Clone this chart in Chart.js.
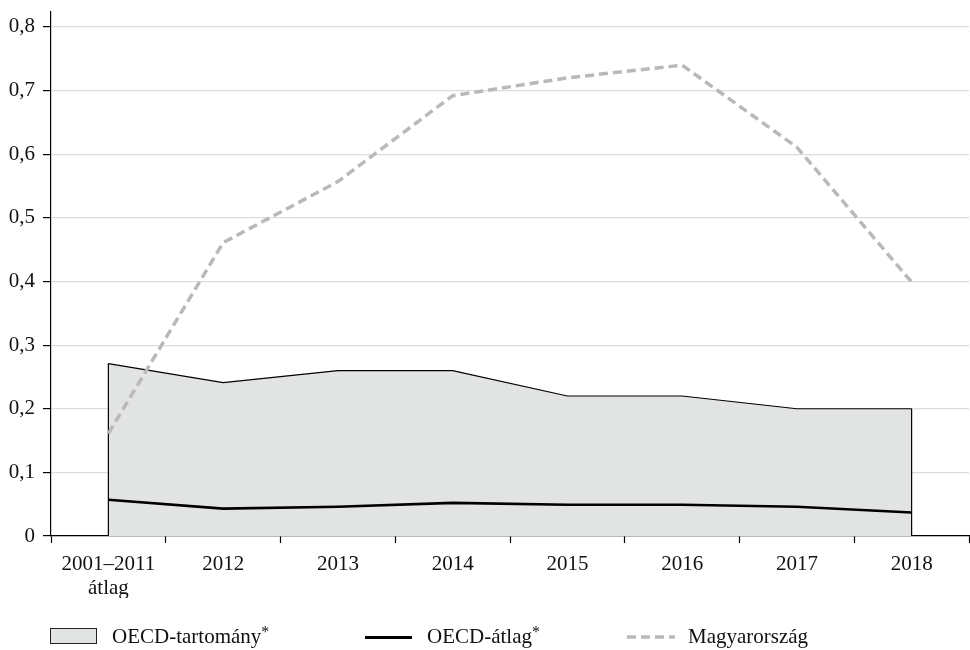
<!DOCTYPE html>
<html>
<head>
<meta charset="utf-8">
<script src="https://cdn.jsdelivr.net/npm/chart.js@4"></script>
<style>
  html, body { margin: 0; padding: 0; background: #fff; }
  #wrap { position: relative; width: 970px; height: 650px; font-family: "Liberation Serif", "Times New Roman", serif; color: #111; }
  #c { position: absolute; left: 0; top: 0; }
  .lg { position: absolute; font-size: 21px; line-height: 24px; top: 624px; white-space: nowrap; }
  .star { font-size: 16px; position: relative; top: -6px; }
</style>
</head>
<body>
<div id="wrap">
  <canvas id="c" width="970" height="650"></canvas>
  <div style="position:absolute;left:50px;top:628px;width:45px;height:14px;background:#e2e3e3;border:1px solid #222;"></div>
  <div class="lg" style="left:112px;">OECD-tartomány<span class="star">*</span></div>
  <div style="position:absolute;left:365px;top:636px;width:47px;height:3px;background:#000;"></div>
  <div class="lg" style="left:427px;">OECD-átlag<span class="star">*</span></div>
  <svg style="position:absolute;left:627px;top:632px;" width="48" height="10"><line x1="0" y1="5" x2="48" y2="5" stroke="#b9b9b9" stroke-width="3.5" stroke-dasharray="9,5"/></svg>
  <div class="lg" style="left:688px;">Magyarország</div>
</div>
<script>
const categories = [['2001–2011', 'átlag'], '2012', '2013', '2014', '2015', '2016', '2017', '2018'];
const oecdRangeMax = [0.271, 0.241, 0.26, 0.26, 0.22, 0.22, 0.20, 0.20];
const oecdAverage = [0.057, 0.043, 0.046, 0.052, 0.049, 0.049, 0.046, 0.037];
const hungary = [0.161, 0.461, 0.557, 0.692, 0.720, 0.740, 0.611, 0.399];
const yTickValues = [0, 0.1, 0.2, 0.3, 0.4, 0.5, 0.6, 0.7, 0.8];
const seriesNames = ['OECD-tartomány*', 'OECD-átlag*', 'Magyarország'];

const FONT = { family: '"Liberation Serif", "Times New Roman", serif', size: 21 };

const edgePlugin = {
  id: 'areaEdges',
  afterDatasetDraw(chart, args) {
    if (args.index !== 0) return;
    const meta = chart.getDatasetMeta(0);
    const y0 = chart.scales.y.getPixelForValue(0);
    const pts = [meta.data[0], meta.data[meta.data.length - 1]];
    const ctx = chart.ctx;
    ctx.save();
    ctx.strokeStyle = '#000';
    ctx.lineWidth = 1.2;
    pts.forEach(p => {
      ctx.beginPath();
      ctx.moveTo(p.x, p.y);
      ctx.lineTo(p.x, y0);
      ctx.stroke();
    });
    ctx.restore();
  }
};

new Chart(document.getElementById('c'), {
  type: 'line',
  data: {
    labels: categories,
    datasets: [
      {
        label: seriesNames[0],
        data: oecdRangeMax,
        fill: 'origin',
        backgroundColor: '#e2e3e3',
        borderColor: '#000',
        borderWidth: 1.2,
        pointRadius: 0,
        tension: 0,
        order: 3
      },
      {
        label: seriesNames[1],
        data: oecdAverage,
        fill: false,
        borderColor: '#000',
        borderWidth: 2.6,
        pointRadius: 0,
        tension: 0,
        order: 2
      },
      {
        label: seriesNames[2],
        data: hungary,
        fill: false,
        borderColor: '#b9b9b9',
        borderWidth: 3.5,
        borderDash: [9, 5],
        pointRadius: 0,
        tension: 0,
        order: 1
      }
    ]
  },
  options: {
    responsive: false,
    animation: false,
    devicePixelRatio: 1,
    layout: { padding: { top: 12, right: 1, bottom: 52, left: 0 } },
    plugins: { legend: { display: false }, tooltip: { enabled: false } },
    scales: {
      x: {
        offset: true,
        grid: { offset: true, drawOnChartArea: false, tickLength: 7, tickColor: '#000', tickWidth: 1.2 },
        border: { color: '#000', width: 1.2 },
        ticks: { font: { ...FONT, lineHeight: 1.15 }, color: '#111', padding: 9, maxRotation: 0, autoSkip: false },
        afterFit(axis) { axis.height = 62; axis.paddingLeft = 0; axis.paddingRight = 0; }
      },
      y: {
        min: 0,
        max: 0.8235,
        afterBuildTicks(axis) { axis.ticks = yTickValues.map(v => ({ value: v })); },
        grid: { color: '#dcdcdc', lineWidth: 1.2, tickColor: '#000', tickLength: 8, tickWidth: 1.2 },
        border: { color: '#000', width: 1.2 },
        ticks: {
          font: FONT,
          color: '#111',
          padding: 8,
          callback: v => v === 0 ? '0' : v.toFixed(1).replace('.', ',')
        },
        afterFit(axis) { axis.width = 51; axis.paddingTop = 0; axis.paddingBottom = 0; }
      }
    }
  },
  plugins: [edgePlugin]
});
</script>
</body>
</html>
